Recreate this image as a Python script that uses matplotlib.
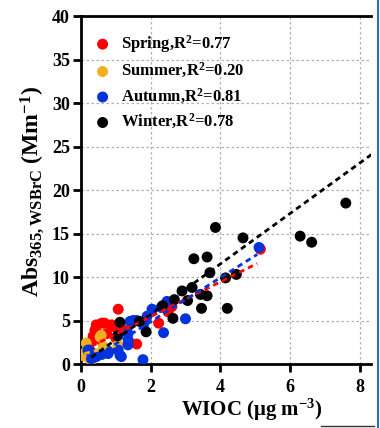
import matplotlib
matplotlib.use("Agg")
import matplotlib.pyplot as plt
from matplotlib.lines import Line2D
import numpy as np

plt.rcParams['font.family'] = ['Liberation Serif', 'DejaVu Serif']
plt.rcParams['font.weight'] = 'bold'
plt.rcParams['mathtext.fontset'] = 'custom'
plt.rcParams['mathtext.rm'] = 'Liberation Serif:bold'
plt.rcParams['mathtext.it'] = 'Liberation Serif:bold'
plt.rcParams['mathtext.bf'] = 'Liberation Serif:bold'
plt.rcParams['mathtext.default'] = 'regular'

# values
spring_x = [0.44, 0.6, 0.68, 0.88, 0.92, 0.4, 0.49, 0.74, 0.35, 1.07, 1.16, 1.0, 1.6, 2.23, 2.61, 5.15, 0.3, 0.55, 2.5, 1.3]
spring_y = [4.5, 4.7, 4.7, 4.5, 4.3, 3.9, 3.5, 3.5, 3.2, 6.3, 4.1, 3.0, 2.3, 4.7, 6.6, 13.2, 2.6, 2.8, 6.0, 3.8]

summer_x = [0.1, 0.12, 0.15, 0.2, 0.3, 0.4, 0.4, 0.55, 0.58, 0.63, 0.65, 1.07, 0.25, 0.5, 0.8]
summer_y = [0.9, 1.3, 2.4, 1.85, 0.45, 0.85, 1.2, 3.1, 3.3, 1.6, 2.0, 2.2, 0.6, 1.0, 1.5]

autumn_x = [0.2, 0.25, 0.3, 0.44, 0.79, 0.78, 1.07, 1.12, 1.16, 1.35, 1.36, 1.35, 1.41, 1.5, 1.6,
            1.78, 1.8, 2.04, 2.37, 2.47, 3.0, 5.11, 0.6, 1.9, 2.3]
autumn_y = [1.6, 1.6, 0.6, 0.85, 1.4, 1.2, 1.6, 1.0, 0.85, 2.2, 2.75, 3.5, 4.9, 5.0, 5.0,
            0.5, 4.6, 6.3, 3.6, 7.2, 5.2, 13.4, 1.1, 5.5, 6.5]

winter_x = [7.6, 3.86, 4.65, 6.29, 6.62, 3.24, 3.62, 3.70, 4.15, 4.46, 2.90, 3.19, 3.43, 3.62,
            3.06, 2.68, 2.34, 3.46, 4.20, 2.64, 1.12, 1.68, 1.87, 1.05]
winter_y = [18.5, 15.7, 14.5, 14.7, 14.0, 12.1, 12.3, 10.5, 9.9, 10.3, 8.4, 8.8, 8.0, 7.85,
            7.3, 7.4, 6.7, 6.4, 6.4, 5.25, 4.8, 4.9, 3.7, 3.25]

seasons = ['Spring', 'Summer', 'Autumn', 'Winter']
r2 = ['0.77', '0.20', '0.81', '0.78']
colors = ['#ff0000', '#f0b020', '#0033dd', '#000000']
# fitted lines: slope, intercept, x range
fit_slope = [2.0, 1.0, 2.53, 2.9]
fit_icpt = [1.44, 1.1, -0.2, -0.1]
fit_xmin = [0.3, 0.1, 0.25, 0.3]
fit_xmax = [5.06, 1.0, 5.06, 8.4]

xs = [spring_x, summer_x, autumn_x, winter_x]
ys = [spring_y, summer_y, autumn_y, winter_y]

fig = plt.figure(figsize=(3.8, 4.28), dpi=100)
ax = fig.add_axes([0.213, 0.1495, 0.763, 0.813])

for i in range(4):
    ax.scatter(xs[i], ys[i], s=62, color=colors[i], edgecolors='none', zorder=3,
               label=f'{seasons[i]},R$^2$={r2[i]}')

for i in range(4):
    lx = np.array([fit_xmin[i], fit_xmax[i]])
    ax.plot(lx, fit_slope[i] * lx + fit_icpt[i], color=colors[i], lw=2,
            linestyle=(0, (2, 1.5)), zorder=4)

ax.set_xlim(0, 8.32)
ax.set_ylim(0, 40)
ax.set_xticks([0, 2, 4, 6, 8])
ax.set_yticks(range(0, 41, 5))
ax.grid(True, color='#b0b0b0', linestyle=(0, (2, 2)), lw=0.9, zorder=0)
ax.set_axisbelow(True)

ax.spines['right'].set_visible(False)
for s in ['left', 'top', 'bottom']:
    ax.spines[s].set_linewidth(2)
ax.tick_params(direction='out', length=6, width=2, labelsize=13, pad=2, top=False, right=False)
ax.tick_params(axis='x', pad=5)
for lab in ax.get_xticklabels() + ax.get_yticklabels():
    lab.set_fontweight('bold')

ax.set_xlabel(r'WIOC ($\mu$g m$^{-3}$)', fontsize=15, fontweight='bold')
ax.xaxis.set_label_coords(0.59, -0.095)
ax.set_ylabel(r'Abs$_{365,WSBrC}$ (Mm$^{-1}$)', fontsize=17, fontweight='bold')
ax.yaxis.set_label_coords(-0.122, 0.497)

leg = ax.legend(loc='upper left', frameon=False, fontsize=12, handletextpad=0.5,
                labelspacing=0.38, borderaxespad=0.3, handlelength=1.2,
                bbox_to_anchor=(0.0, 0.985))

# border artifacts of the screenshot
fig.add_artist(Line2D([0.995, 0.995], [0, 1], color='#2b6cc4', lw=1.5))
fig.add_artist(Line2D([0.845, 0.985], [0.004, 0.004], color='#333333', lw=1))

fig.savefig('out.png', dpi=100)
